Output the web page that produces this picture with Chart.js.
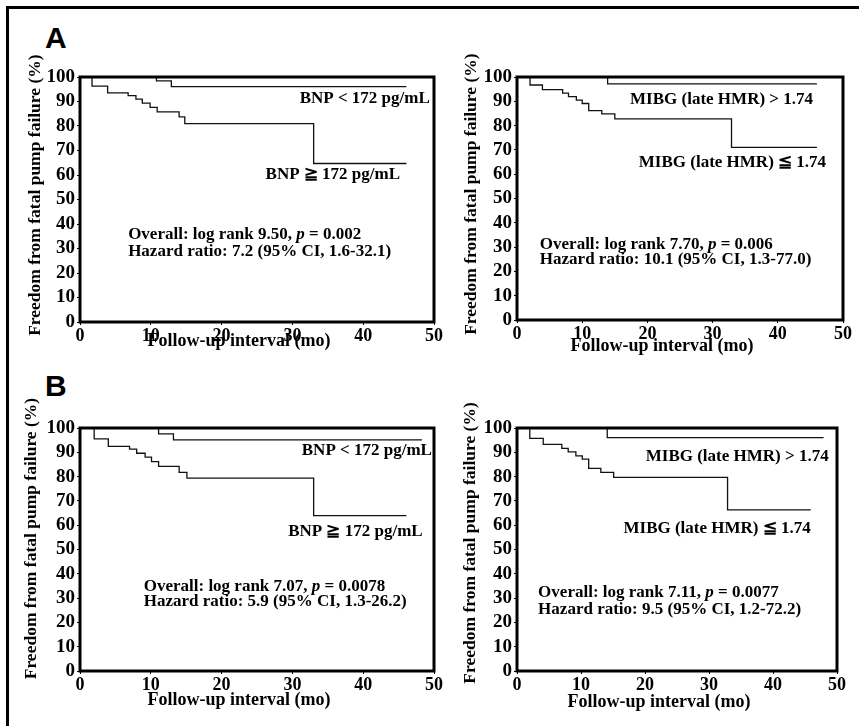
<!DOCTYPE html>
<html><head><meta charset="utf-8">
<script src="https://cdn.jsdelivr.net/npm/chart.js@4"></script>
<style>
html,body{margin:0;padding:0;background:#fff;}
body{width:859px;height:726px;position:relative;overflow:hidden;}
canvas{position:absolute;}
.frame{position:absolute;left:6px;top:6px;width:900px;height:800px;border-left:3px solid #000;border-top:3px solid #000;}
.plabel{position:absolute;font-family:"Liberation Sans",Arial,sans-serif;font-weight:bold;font-size:30px;line-height:30px;color:#000;}
</style></head><body>
<div class="frame"></div>
<div class="plabel" style="left:45px;top:23px">A</div>
<div class="plabel" style="left:45px;top:371px">B</div>
<canvas id="c1"></canvas>
<canvas id="c2"></canvas>
<canvas id="c3"></canvas>
<canvas id="c4"></canvas>
<script>
// ---- tick values ----
const xTicks = [0, 10, 20, 30, 40, 50];
const yTicks = [0, 10, 20, 30, 40, 50, 60, 70, 80, 90, 100];

// ---- Panel A, BNP ----
const aBnpLowX  = [0, 10.8, 12.9, 46.1];
const aBnpLowY  = [100, 98.4, 96.1, 96.1];
const aBnpHighX = [0, 1.7, 3.9, 6.8, 7.9, 8.8, 9.9, 10.9, 14.0, 14.8, 33.0, 46.1];
const aBnpHighY = [100, 96.3, 93.5, 92.4, 91.0, 89.3, 87.6, 85.8, 83.7, 81.0, 64.7, 64.7];

// ---- Panel A, MIBG ----
const aMibgHighX = [0, 13.9, 46.0];
const aMibgHighY = [100, 97.2, 97.2];
const aMibgLowX  = [0, 2.0, 3.9, 7.0, 7.9, 9.1, 10.0, 11.0, 13.0, 15.0, 32.9, 46.0];
const aMibgLowY  = [100, 96.7, 94.8, 93.4, 91.9, 90.5, 89.1, 86.2, 84.8, 82.8, 71.0, 71.0];

// ---- Panel B, BNP ----
const bBnpLowX  = [0, 11.1, 13.2, 48.3];
const bBnpLowY  = [100, 97.6, 95.1, 95.1];
const bBnpHighX = [0, 2.0, 4.0, 7.0, 8.0, 9.2, 10.1, 11.1, 14.0, 15.1, 33.0, 46.1];
const bBnpHighY = [100, 95.5, 92.4, 91.3, 89.6, 88.0, 86.2, 84.2, 81.7, 79.4, 63.9, 63.9];

// ---- Panel B, MIBG ----
const bMibgHighX = [0, 14.1, 47.9];
const bMibgHighY = [100, 96.0, 96.0];
const bMibgLowX  = [0, 2.0, 4.1, 7.0, 8.0, 9.2, 10.2, 11.2, 13.1, 15.1, 32.9, 45.9];
const bMibgLowY  = [100, 95.7, 93.3, 91.6, 90.2, 88.5, 87.2, 83.4, 81.7, 79.7, 66.3, 66.3];

// ---- texts ----
const xTitle = 'Follow-up interval (mo)';
const yTitle = 'Freedom from fatal pump failure (%)';
const bnpLowLabel = 'BNP < 172 pg/mL';
const bnpHighLabel = 'BNP \u2267 172 pg/mL';
const mibgHighLabel = 'MIBG (late HMR) > 1.74';
const mibgLowLabel = 'MIBG (late HMR) \u2266 1.74';
const statsA1 = ['Overall: log rank 9.50, ', 'p', ' = 0.002', 'Hazard ratio: 7.2 (95% CI, 1.6-32.1)'];
const statsA2 = ['Overall: log rank 7.70, ', 'p', ' = 0.006', 'Hazard ratio: 10.1 (95% CI, 1.3-77.0)'];
const statsB1 = ['Overall: log rank 7.07, ', 'p', ' = 0.0078', 'Hazard ratio: 5.9 (95% CI, 1.3-26.2)'];
const statsB2 = ['Overall: log rank 7.11, ', 'p', ' = 0.0077', 'Hazard ratio: 9.5 (95% CI, 1.2-72.2)'];

const SERIF = "'Liberation Serif','Times New Roman',Times,serif";
const FS = 17;

function pts(xs, ys) { return xs.map((x, i) => ({x: x, y: ys[i]})); }

const framePlugin = {
  id: 'panelDeco',
  afterDraw(chart, args, opts) {
    const {ctx, chartArea: ca, scales: {x, y}} = chart;
    ctx.save();
    ctx.strokeStyle = '#000';
    ctx.lineWidth = 3;
    ctx.strokeRect(ca.left, ca.top, ca.right - ca.left, ca.bottom - ca.top);
    ctx.fillStyle = '#000';
    ctx.textBaseline = 'middle';
    const normal = 'bold ' + FS + 'px ' + SERIF;
    const ital = 'italic bold ' + FS + 'px ' + SERIF;
    for (const t of opts.labels) {
      ctx.font = normal;
      ctx.textAlign = 'right';
      ctx.fillText(t.text, x.getPixelForValue(t.x), y.getPixelForValue(t.y));
    }
    const s = opts.stats;
    let px = x.getPixelForValue(s.x);
    const py1 = y.getPixelForValue(s.y1);
    const py2 = y.getPixelForValue(s.y2);
    ctx.textAlign = 'left';
    const runs = [[s.text[0], normal], [s.text[1], ital], [s.text[2], normal]];
    for (const [txt, f] of runs) {
      ctx.font = f;
      ctx.fillText(txt, px, py1);
      px += ctx.measureText(txt).width;
    }
    ctx.font = normal;
    ctx.fillText(s.text[3], x.getPixelForValue(s.x), py2);
    ctx.restore();
  }
};

function makePanel(id, g, low, high, deco) {
  const YW = 60, XH = 45, PT = 40, PR = 15;
  const w = YW + (g.R - g.L) + PR;
  const h = PT + (g.B - g.T) + XH;
  const cv = document.getElementById(id);
  cv.width = w; cv.height = h;
  cv.style.left = (g.L - YW) + 'px';
  cv.style.top = (g.T - PT) + 'px';
  cv.style.width = w + 'px';
  cv.style.height = h + 'px';
  const lineStyle = {borderColor: '#111', borderWidth: 1.3, pointRadius: 0, stepped: true, fill: false, tension: 0};
  new Chart(cv, {
    type: 'line',
    data: {
      datasets: [
        Object.assign({label: 'low', data: pts(low[0], low[1])}, lineStyle),
        Object.assign({label: 'high', data: pts(high[0], high[1])}, lineStyle)
      ]
    },
    options: {
      responsive: false,
      animation: false,
      devicePixelRatio: 1,
      layout: {padding: {top: PT, right: PR, left: 0, bottom: 0}},
      plugins: {legend: {display: false}, tooltip: {enabled: false}, panelDeco: deco},
      scales: {
        x: {
          type: 'linear', min: 0, max: 50,
          afterBuildTicks: s => { s.ticks = xTicks.map(v => ({value: v})); },
          afterFit: s => { s.height = XH; },
          border: {display: false},
          grid: {drawOnChartArea: false, drawTicks: true, tickLength: 3, color: '#000', lineWidth: 1},
          ticks: {color: '#000', padding: 1, font: {family: SERIF, size: 18, weight: 'bold'}, maxRotation: 0, autoSkip: false},
          title: {display: true, text: xTitle + '\u00a0'.repeat(8), color: '#000', padding: {top: 0, bottom: g.xtp}, font: {family: SERIF, size: 18, weight: 'bold'}}
        },
        y: {
          type: 'linear', min: 0, max: 100,
          afterBuildTicks: s => { s.ticks = yTicks.map(v => ({value: v})); },
          afterFit: s => { s.width = YW; },
          border: {display: false},
          grid: {drawOnChartArea: false, drawTicks: true, tickLength: 3, color: '#000', lineWidth: 1},
          ticks: {color: '#000', padding: 2, font: {family: SERIF, size: 19, weight: 'bold'}, autoSkip: false},
          title: {display: true, text: '\u00a0'.repeat(g.ysp) + yTitle, color: '#000', padding: {top: g.ytp, bottom: 0}, font: {family: SERIF, size: 17.5, weight: 'bold'}}
        }
      }
    },
    plugins: [framePlugin]
  });
}

makePanel('c1', {L: 80, R: 434, T: 77, B: 322, xtp: 14.5, ytp: 4.6, ysp: 2},
  [aBnpLowX, aBnpLowY], [aBnpHighX, aBnpHighY],
  {labels: [{text: bnpLowLabel, x: 49.4, y: 91}, {text: bnpHighLabel, x: 45.2, y: 60}],
   stats: {text: statsA1, x: 6.8, y1: 35.5, y2: 28.6}});

makePanel('c2', {L: 517, R: 843, T: 77, B: 320, xtp: 8.0, ytp: 3.6, ysp: 2},
  [aMibgHighX, aMibgHighY], [aMibgLowX, aMibgLowY],
  {labels: [{text: mibgHighLabel, x: 45.4, y: 90.5}, {text: mibgLowLabel, x: 47.4, y: 64.6}],
   stats: {text: statsA2, x: 3.5, y1: 30.9, y2: 24.7}});

makePanel('c3', {L: 80, R: 434, T: 428, B: 671, xtp: 5.0, ytp: 0.6, ysp: 5},
  [bBnpLowX, bBnpLowY], [bBnpHighX, bBnpHighY],
  {labels: [{text: bnpLowLabel, x: 49.7, y: 90.5}, {text: bnpHighLabel, x: 48.4, y: 57.4}],
   stats: {text: statsB1, x: 9.0, y1: 34.7, y2: 28.5}});

makePanel('c4', {L: 517, R: 837, T: 428, B: 671, xtp: 3.0, ytp: 2.6, ysp: 3},
  [bMibgHighX, bMibgHighY], [bMibgLowX, bMibgLowY],
  {labels: [{text: mibgHighLabel, x: 48.7, y: 88.4}, {text: mibgLowLabel, x: 45.9, y: 58.7}],
   stats: {text: statsB2, x: 3.3, y1: 32.2, y2: 25.2}});
</script>
</body></html>
